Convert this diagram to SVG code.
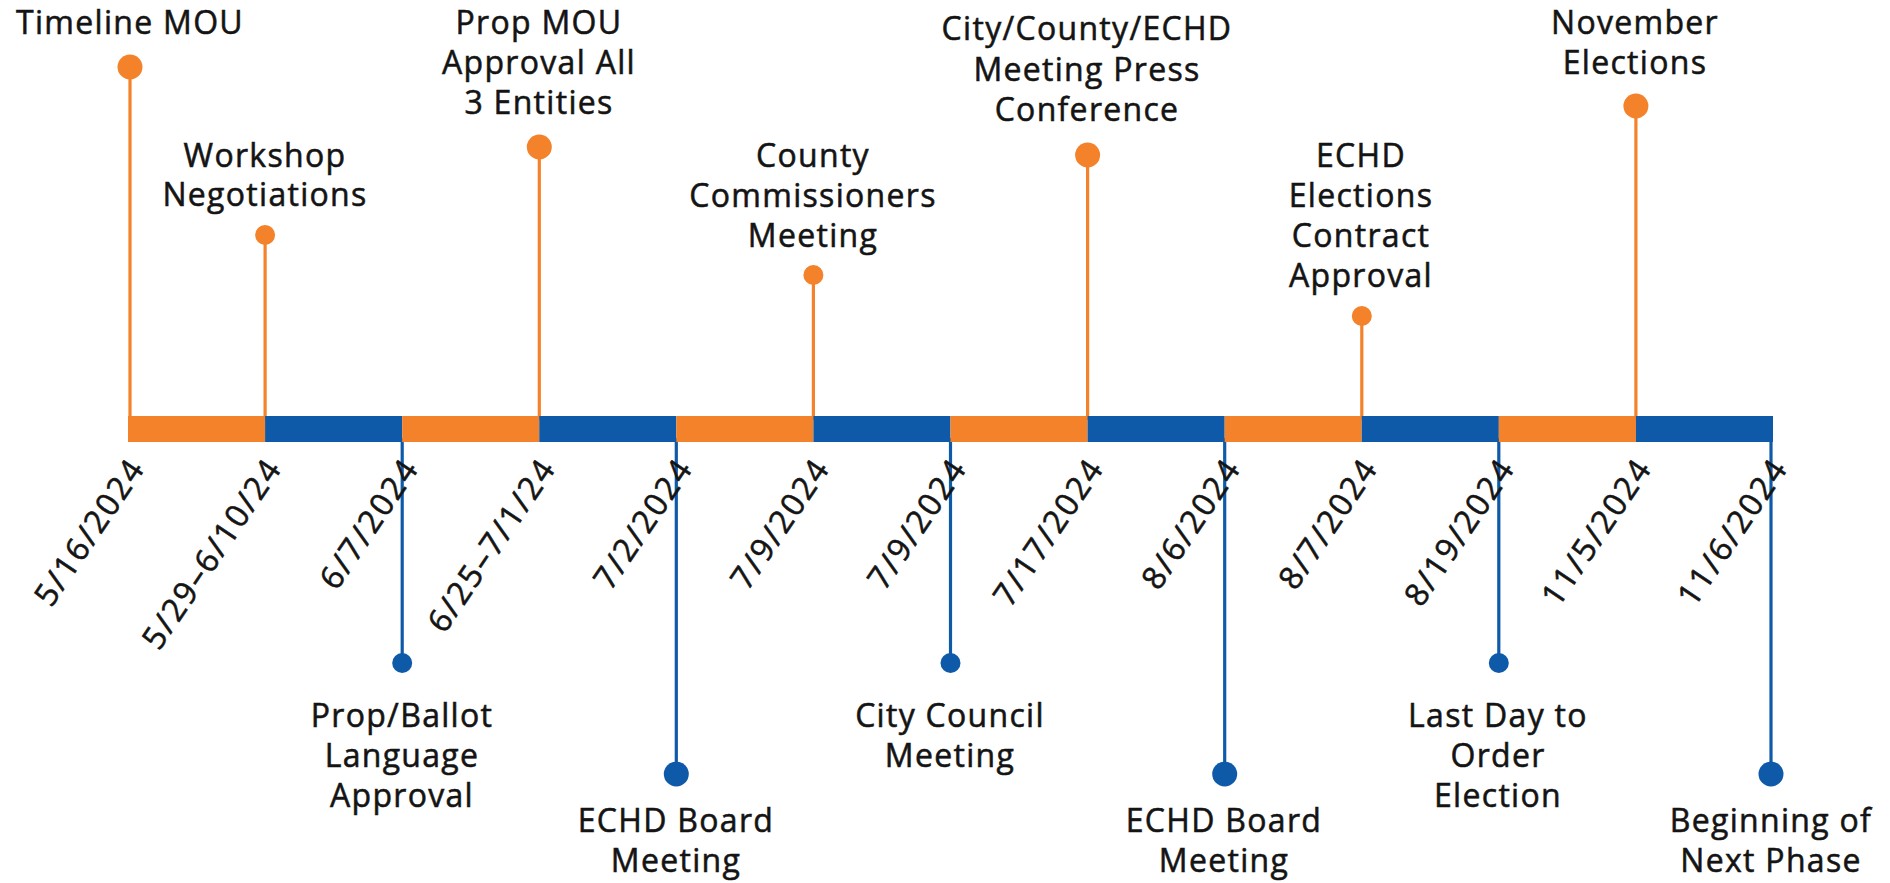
<svg xmlns="http://www.w3.org/2000/svg" width="1890" height="883" viewBox="0 0 1890 883">
<style>
.lbl{font-family:"Open Sans","Liberation Sans",sans-serif;font-size:32px;font-weight:400;fill:#141414;stroke:#141414;stroke-width:0.55px;text-anchor:middle;letter-spacing:1.3px}
.date{font-family:"Open Sans","Liberation Sans",sans-serif;font-size:32px;font-weight:400;fill:#141414;stroke:#141414;stroke-width:0.55px;text-anchor:end;letter-spacing:2px}
.so{stroke:#F4822A;stroke-width:3.2;fill:none}
.sb{stroke:#0E5AA8;stroke-width:3.2;fill:none}
.do{fill:#F4822A}
.db{fill:#0E5AA8}
.o{fill:#F4822A}
.b{fill:#0E5AA8}
</style>
<rect width="1890" height="883" fill="#fff"/>
<g id="connectors">
<line class="so" x1="130" y1="67" x2="130" y2="420"/>
<line class="so" x1="265.1" y1="235" x2="265.1" y2="420"/>
<line class="sb" x1="402.2" y1="438" x2="402.2" y2="663"/>
<line class="so" x1="539.3" y1="147" x2="539.3" y2="420"/>
<line class="sb" x1="676.3" y1="438" x2="676.3" y2="774"/>
<line class="so" x1="813.4" y1="275" x2="813.4" y2="420"/>
<line class="sb" x1="950.5" y1="438" x2="950.5" y2="663"/>
<line class="so" x1="1087.6" y1="155" x2="1087.6" y2="420"/>
<line class="sb" x1="1224.7" y1="438" x2="1224.7" y2="774"/>
<line class="so" x1="1361.8" y1="316" x2="1361.8" y2="420"/>
<line class="sb" x1="1498.8" y1="438" x2="1498.8" y2="663"/>
<line class="so" x1="1635.9" y1="106" x2="1635.9" y2="420"/>
<line class="sb" x1="1771" y1="438" x2="1771" y2="774"/>
</g>
<g id="timeline-bar">
<rect class="o" x="128" y="416" width="137.08" height="26"/>
<rect class="b" x="265.08" y="416" width="137.09" height="26"/>
<rect class="o" x="402.17" y="416" width="137.08" height="26"/>
<rect class="b" x="539.25" y="416" width="137.08" height="26"/>
<rect class="o" x="676.33" y="416" width="137.09" height="26"/>
<rect class="b" x="813.42" y="416" width="137.08" height="26"/>
<rect class="o" x="950.5" y="416" width="137.08" height="26"/>
<rect class="b" x="1087.58" y="416" width="137.09" height="26"/>
<rect class="o" x="1224.67" y="416" width="137.08" height="26"/>
<rect class="b" x="1361.75" y="416" width="137.08" height="26"/>
<rect class="o" x="1498.83" y="416" width="137.09" height="26"/>
<rect class="b" x="1635.92" y="416" width="137.08" height="26"/>
</g>
<g id="m1">
<circle class="do" cx="130" cy="67" r="12.5"/>
<text class="lbl" x="130" y="34">Timeline MOU</text>
<text class="date" transform="translate(146,468) rotate(-56)">5/16/2024</text>
</g>
<g id="m2">
<circle class="do" cx="265.1" cy="235" r="10"/>
<text class="lbl" x="265" y="167">Workshop</text>
<text class="lbl" x="265" y="206">Negotiations</text>
<text class="date" transform="translate(283,468) rotate(-56)">5/29–6/10/24</text>
</g>
<g id="m3">
<circle class="db" cx="402.2" cy="663" r="10"/>
<text class="lbl" x="402" y="727">Prop/Ballot</text>
<text class="lbl" x="402" y="767">Language</text>
<text class="lbl" x="402" y="807">Approval</text>
<text class="date" transform="translate(420,468) rotate(-56)">6/7/2024</text>
</g>
<g id="m4">
<circle class="do" cx="539.3" cy="147" r="12.5"/>
<text class="lbl" x="539" y="34">Prop MOU</text>
<text class="lbl" x="539" y="74">Approval All</text>
<text class="lbl" x="539" y="114">3 Entities</text>
<text class="date" transform="translate(557,468) rotate(-56)">6/25–7/1/24</text>
</g>
<g id="m5">
<circle class="db" cx="676.3" cy="774" r="12.5"/>
<text class="lbl" x="676" y="832">ECHD Board</text>
<text class="lbl" x="676" y="872">Meeting</text>
<text class="date" transform="translate(694,468) rotate(-56)">7/2/2024</text>
</g>
<g id="m6">
<circle class="do" cx="813.4" cy="275" r="10"/>
<text class="lbl" x="813" y="167">County</text>
<text class="lbl" x="813" y="207">Commissioners</text>
<text class="lbl" x="813" y="247">Meeting</text>
<text class="date" transform="translate(831,468) rotate(-56)">7/9/2024</text>
</g>
<g id="m7">
<circle class="db" cx="950.5" cy="663" r="10"/>
<text class="lbl" x="950" y="727">City Council</text>
<text class="lbl" x="950" y="767">Meeting</text>
<text class="date" transform="translate(968,468) rotate(-56)">7/9/2024</text>
</g>
<g id="m8">
<circle class="do" cx="1087.6" cy="155" r="12.5"/>
<text class="lbl" x="1087" y="40">City/County/ECHD</text>
<text class="lbl" x="1087" y="81">Meeting Press</text>
<text class="lbl" x="1087" y="121">Conference</text>
<text class="date" transform="translate(1105,468) rotate(-56)">7/17/2024</text>
</g>
<g id="m9">
<circle class="db" cx="1224.7" cy="774" r="12.5"/>
<text class="lbl" x="1224" y="832">ECHD Board</text>
<text class="lbl" x="1224" y="872">Meeting</text>
<text class="date" transform="translate(1242,468) rotate(-56)">8/6/2024</text>
</g>
<g id="m10">
<circle class="do" cx="1361.8" cy="316" r="10"/>
<text class="lbl" x="1361" y="167">ECHD</text>
<text class="lbl" x="1361" y="207">Elections</text>
<text class="lbl" x="1361" y="247">Contract</text>
<text class="lbl" x="1361" y="287">Approval</text>
<text class="date" transform="translate(1379,468) rotate(-56)">8/7/2024</text>
</g>
<g id="m11">
<circle class="db" cx="1498.8" cy="663" r="10"/>
<text class="lbl" x="1498" y="727">Last Day to</text>
<text class="lbl" x="1498" y="767">Order</text>
<text class="lbl" x="1498" y="807">Election</text>
<text class="date" transform="translate(1516,468) rotate(-56)">8/19/2024</text>
</g>
<g id="m12">
<circle class="do" cx="1635.9" cy="106" r="12.5"/>
<text class="lbl" x="1635" y="34">November</text>
<text class="lbl" x="1635" y="74">Elections</text>
<text class="date" transform="translate(1653,468) rotate(-56)">11/5/2024</text>
</g>
<g id="m13">
<circle class="db" cx="1771" cy="774" r="12.5"/>
<text class="lbl" x="1771" y="832">Beginning of</text>
<text class="lbl" x="1771" y="872">Next Phase</text>
<text class="date" transform="translate(1789,468) rotate(-56)">11/6/2024</text>
</g>
</svg>
